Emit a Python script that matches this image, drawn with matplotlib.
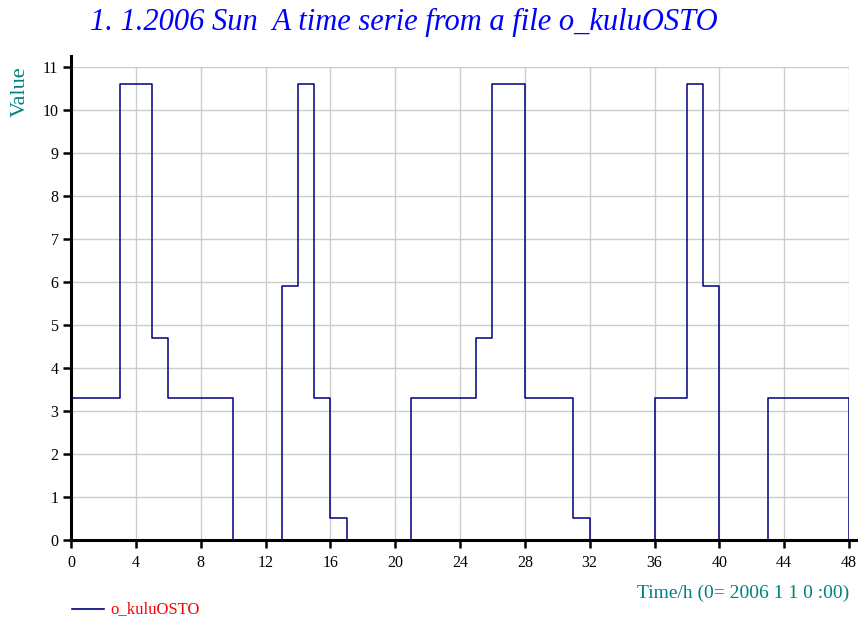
import numpy as np
import matplotlib
matplotlib.use("Agg")
import matplotlib.pyplot as plt
from matplotlib.lines import Line2D

# hourly values of o_kuluOSTO, value at hour h holds until h+1
hours = list(range(0, 49))
values = [3.3, 3.3, 3.3, 10.6, 10.6, 4.7, 3.3, 3.3, 3.3, 3.3,
          0.0, 0.0, 0.0, 5.9, 10.6, 3.3, 0.5, 0.0, 0.0, 0.0,
          0.0, 3.3, 3.3, 3.3, 3.3, 4.7, 10.6, 10.6, 3.3, 3.3,
          3.3, 0.5, 0.0, 0.0, 0.0, 0.0, 3.3, 3.3, 10.6, 5.9,
          0.0, 0.0, 0.0, 3.3, 3.3, 3.3, 3.3, 3.3, 0.0]
xticks = list(range(0, 49, 4))
yticks = list(range(0, 12))

title = "1. 1.2006 Sun  A time serie from a file o_kuluOSTO"
series_name = "o_kuluOSTO"

plt.rcParams["font.family"] = ["Liberation Serif", "DejaVu Serif"]

fig = plt.figure(figsize=(8.58, 6.18), dpi=100)
# axes box: x 71..849 px, y 66.7..540 px
ax = fig.add_axes([71 / 858, 1 - 540 / 618, 778 / 858, (540 - 66.7) / 618])

ax.step(hours, values, where="post", color="#000080", linewidth=1.1, zorder=3)

ax.set_xlim(0, 48)
ax.set_ylim(0, 11)
ax.set_xticks(xticks)
ax.set_yticks(yticks)
ax.grid(True, color="#cccccc", linewidth=1.0)
ax.set_axisbelow(True)

for side in ("top", "right"):
    ax.spines[side].set_visible(False)
for side in ("left", "bottom"):
    ax.spines[side].set_linewidth(2.2)
    ax.spines[side].set_zorder(4)
ax.spines["left"].set_bounds(0, 11.25)
ax.spines["bottom"].set_bounds(0, 48.6)

ax.tick_params(axis="both", direction="out", length=6, width=1.8,
               labelsize=11.5, colors="black")
ax.tick_params(axis="x", pad=5)
ax.tick_params(axis="y", pad=3)

fig.text(90 / 858, 1 - 22 / 618, title, color="#0000ff", fontsize=22,
         fontstyle="italic", ha="left", va="center")
fig.text(20 / 858, 1 - 92 / 618, "Value", color="#008080", fontsize=16,
         rotation=90, ha="center", va="center")
fig.text(849 / 858, 1 - 593 / 618, "Time/h (0= 2006 1 1 0 :00)",
         color="#008080", fontsize=14, ha="right", va="center")

fig.add_artist(Line2D([72 / 858, 104 / 858], [1 - 609 / 618, 1 - 609 / 618],
                      color="#000080", linewidth=1.2))
fig.text(110 / 858, 1 - 609 / 618, series_name, color="#ff0000",
         fontsize=12, ha="left", va="center")

fig.savefig("out.png", dpi=100)
